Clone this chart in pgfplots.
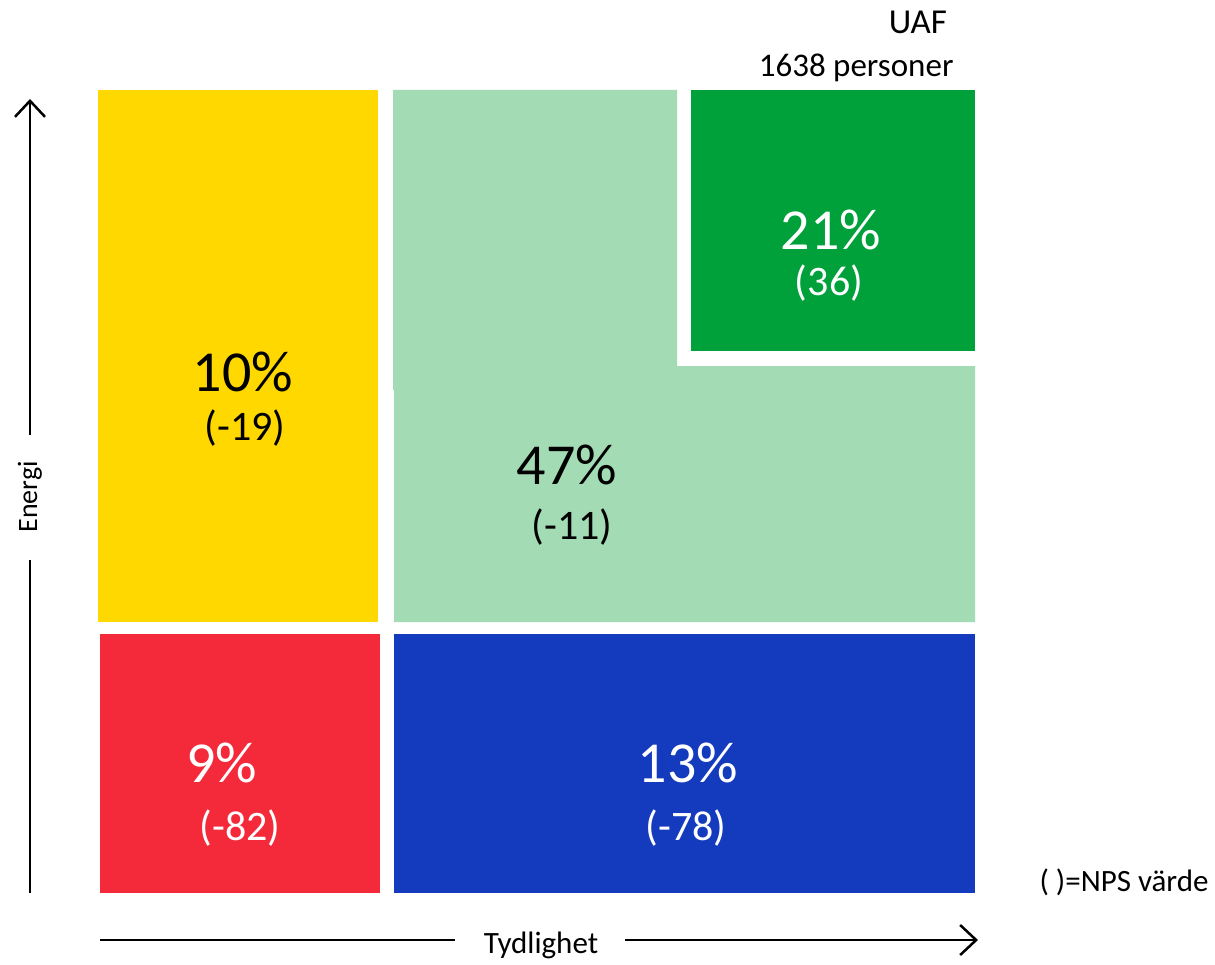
\documentclass[border=0pt]{standalone}
\usepackage{pgfplots}
\pgfplotsset{compat=1.18}
\usepackage{fontspec}
\setmainfont{Carlito}
\usetikzlibrary{arrows.meta}

\definecolor{cYellow}{RGB}{255,216,0}
\definecolor{cLight}{RGB}{163,219,180}
\definecolor{cDark}{RGB}{0,160,58}
\definecolor{cRed}{RGB}{244,41,58}
\definecolor{cBlue}{RGB}{20,58,190}

\newcommand{\fs}[1]{\fontsize{#1bp}{#1bp}\selectfont}

\begin{document}
\begin{tikzpicture}
\begin{axis}[
    width=1215bp, height=964bp, scale only axis,
    xmin=0, xmax=1215, ymin=0, ymax=964,
    y dir=reverse,
    hide axis, clip=false,
]
\path (rel axis cs:0,0) rectangle (rel axis cs:1,1);

% segments (pixel coordinates, y downwards)
\addplot[fill=cYellow, draw=none] coordinates {(98,90) (378,90) (378,622) (98,622)} -- cycle;
\addplot[fill=cLight, draw=none] coordinates {(393,90) (677,90) (677,366) (975,366) (975,622) (394,622) (394,390) (393,390)} -- cycle;
\addplot[fill=cDark, draw=none] coordinates {(691,90) (975,90) (975,351) (691,351)} -- cycle;
\addplot[fill=cRed, draw=none] coordinates {(100,634) (380,634) (380,893) (100,893)} -- cycle;
\addplot[fill=cBlue, draw=none] coordinates {(394,634) (975,634) (975,893) (394,893)} -- cycle;

% labels
\node[font=\fs{58}] at (axis cs:243,372) {10\%};
\node[font=\fs{42}] at (axis cs:245,428) {(-19)};
\node[font=\fs{58}] at (axis cs:567,465) {47\%};
\node[font=\fs{42}] at (axis cs:572,527) {(-11)};
\node[font=\fs{58}, text=white] at (axis cs:831,230) {21\%};
\node[font=\fs{42}, text=white] at (axis cs:829,283) {(36)};
\node[font=\fs{58}, text=white] at (axis cs:222,763) {9\%};
\node[font=\fs{42}, text=white] at (axis cs:240,828) {(-82)};
\node[font=\fs{58}, text=white] at (axis cs:688,763) {13\%};
\node[font=\fs{42}, text=white] at (axis cs:686,828) {(-78)};

\node[font=\fs{35}] at (axis cs:918,22) {UAF};
\node[font=\fs{33}, anchor=east] at (axis cs:957,68) {1638 personer};
\node[font=\fs{31}, anchor=west] at (axis cs:1036,882) {( )=NPS värde};

% axis arrows
\draw[line width=2.5bp] (axis cs:30,893) -- (axis cs:30,560);
\draw[line width=2.5bp, -{Straight Barb[length=16bp,width=30bp,line width=2.5bp]}] (axis cs:30,435) -- (axis cs:30,99);
\node[font=\fs{28}, rotate=90] at (axis cs:30,497) {Energi};
\draw[line width=2.5bp] (axis cs:100,940) -- (axis cs:455,940);
\draw[line width=2.5bp, -{Straight Barb[length=16bp,width=30bp,line width=2.5bp]}] (axis cs:625,940) -- (axis cs:978,940);
\node[font=\fs{31}] at (axis cs:541,945) {Tydlighet};
\end{axis}
\end{tikzpicture}
\end{document}
